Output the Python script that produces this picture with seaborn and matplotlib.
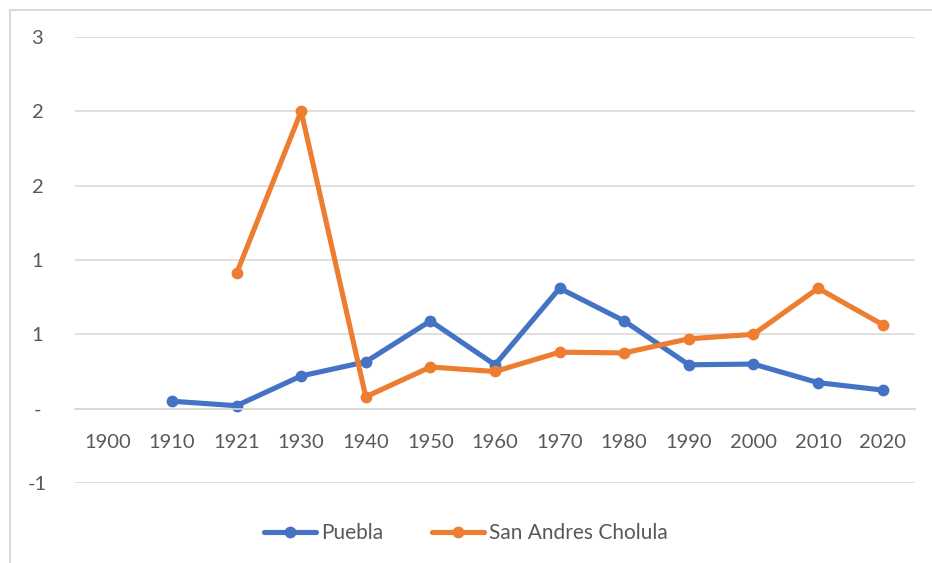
import numpy as np
import pandas as pd
import matplotlib
matplotlib.use('Agg')
import matplotlib.pyplot as plt
from matplotlib.lines import Line2D
import seaborn as sns

# ── datos ─────────────────────────────────────────────────────────────
years = ['1900', '1910', '1921', '1930', '1940', '1950', '1960',
         '1970', '1980', '1990', '2000', '2010', '2020']
puebla = [np.nan, 0.05, 0.02, 0.22, 0.315, 0.59, 0.295,
          0.81, 0.59, 0.295, 0.30, 0.175, 0.125]
cholula = [np.nan, np.nan, 0.91, 2.0, 0.08, 0.28, 0.25,
           0.38, 0.375, 0.47, 0.50, 0.81, 0.565]
series = ['Puebla', 'San Andres Cholula']
yticks = [-0.5, 0, 0.5, 1.0, 1.5, 2.0, 2.5]

AZUL = '#4472C4'; NARANJA = '#ED7D31'; GRIS = '#595959'; REJILLA = '#D9D9D9'

df = pd.DataFrame({'pos': list(range(len(years))) * 2,
                   'valor': puebla + cholula,
                   'serie': [series[0]] * len(years) + [series[1]] * len(years)})
df = df.dropna()

sns.set_style('white')
plt.rcParams['font.family'] = ['Lato', 'DejaVu Sans']

fig = plt.figure(figsize=(9.32, 5.63), dpi=100)
fig.patch.set_facecolor('white')
ax = fig.add_axes([75/932, 1-483/563, 840/932, 446/563])

sns.lineplot(data=df, x='pos', y='valor', hue='serie', hue_order=series,
             palette=[AZUL, NARANJA], marker='o', markersize=8.5,
             markeredgewidth=0, linewidth=3.7, ax=ax, legend=False)

ax.set_xlim(-0.5, len(years) - 0.5)
ax.set_ylim(-0.5, 2.5)
ax.set_xticks(range(len(years)))
ax.set_xticklabels(years)

def etiqueta(v):
    r = int(np.sign(v) * np.floor(abs(v) + 0.5))
    return '-' if abs(v) < 1e-9 else str(r)

ax.set_yticks(yticks)
ax.set_yticklabels([etiqueta(v) for v in yticks])
ax.grid(axis='y', color=REJILLA, lw=1.2)
ax.set_axisbelow(True)
for sp in ['left', 'right', 'top']:
    ax.spines[sp].set_visible(False)
ax.spines['bottom'].set_position(('data', 0))
ax.spines['bottom'].set_color(REJILLA)
ax.spines['bottom'].set_linewidth(1.2)
ax.tick_params(axis='both', length=0, colors=GRIS, labelsize=14.5)
ax.tick_params(axis='x', pad=18)
ax.tick_params(axis='y', pad=27)
for t in ax.get_yticklabels():
    t.set_horizontalalignment('center')
ax.set_xlabel(''); ax.set_ylabel('')

handles = [Line2D([], [], color=AZUL, lw=3.7, marker='o', markersize=8.5, markeredgewidth=0),
           Line2D([], [], color=NARANJA, lw=3.7, marker='o', markersize=8.5, markeredgewidth=0)]
fig.legend(handles, series, loc='center', bbox_to_anchor=(0.5, 1-533/563), ncol=2,
           frameon=False, fontsize=15, labelcolor=GRIS, handlelength=2.5,
           handletextpad=0.25, columnspacing=2.3)

# marco del área del gráfico
fig.add_artist(Line2D([10/932, 10/932], [0, 1-10/563], color=REJILLA, lw=1.5, transform=fig.transFigure))
fig.add_artist(Line2D([10/932, 1], [1-10/563, 1-10/563], color=REJILLA, lw=1.5, transform=fig.transFigure))

plt.savefig('out.png', dpi=100, facecolor='white')
plt.close()
